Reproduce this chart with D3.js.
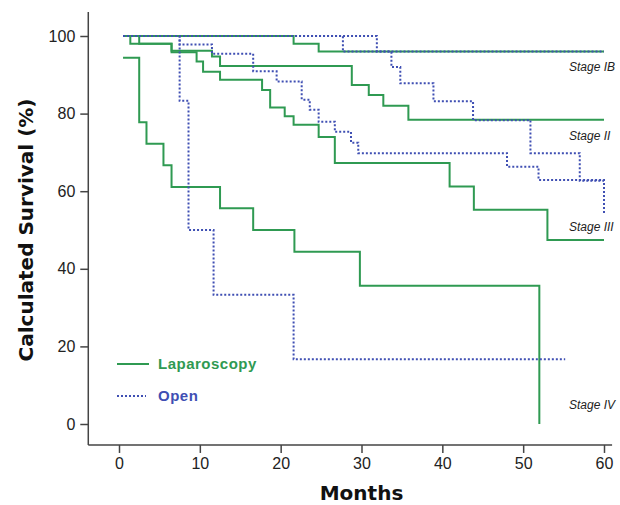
<!DOCTYPE html>
<html>
<head>
<meta charset="utf-8">
<script src="https://cdn.jsdelivr.net/npm/d3@7"></script>
<style>
  body { margin: 0; background: #fff; }
  text { font-family: "Liberation Sans", Arial, sans-serif; }
</style>
</head>
<body>
<div id="km"></div>
<script>
// survival steps: [month, % surviving]
const lapIB = [[0.5,100],[21.6,98],[24.7,96],[60,96]];
const lapII = [[0.5,100],[1.4,98],[6.5,96.2],[11.5,94.7],[12.5,92.3],[28.8,87.4],[30.9,84.8],[32.7,82],[35.8,78.4],[60,78.4]];
const lapIII = [[0.5,100],[2.5,98],[6.5,95.8],[9.6,93.4],[10.4,90.8],[12.5,88.7],[17.7,86.1],[18.7,81.6],[20.5,79.3],[21.6,77.1],[24.7,74],[26.7,67.3],[40.9,61.2],[43.9,55.2],[53,47.4],[60,47.4]];
const lapIV = [[0.5,94.4],[2.5,77.8],[3.4,72.2],[5.5,66.7],[6.5,61.1],[12.5,55.6],[16.6,50],[21.7,44.4],[29.8,35.6],[52,0]];

const openIB = [[0.5,100],[27.7,96],[60,96]];
const openII = [[0.5,100],[31.9,96],[33.7,92],[34.8,87.8],[38.9,83.2],[43.8,78.3],[50.9,69.8],[57,62.7],[60,62.7]];
const openIII = [[0.5,100],[7.5,97.8],[11.5,95.4],[16.6,90.9],[19.5,88.3],[22.6,83.6],[23.6,81],[24.7,77.9],[26.7,75.3],[28.7,72.5],[29.6,69.8],[48,66.3],[51.9,62.9],[60,54.3]];
const openIV = [[0.5,100],[7.5,83.3],[8.6,50],[11.7,33.3],[21.6,16.7],[55.2,16.7]];

const stageNames = ["Stage IB", "Stage II", "Stage III", "Stage IV"];
const stageLabelPct = [91, 73.2, 49.7, 3.9];
const xTicks = [0, 10, 20, 30, 40, 50, 60];
const yTicks = [0, 20, 40, 60, 80, 100];
const groups = ["Laparoscopy", "Open"];

(function km_chart() {
  const width = 620,
    height = 505;

  const green = "#2f9a52",
    blue = "#3f4fb3";

  const svg = d3.select("#km")
    .append("svg")
    .attr("width", width)
    .attr("height", height);

  let x = d3.scaleLinear([0, 60], [119, 604]);
  let y = d3.scaleLinear([0, 100], [424, 36]);

  // axes
  const yAxis = svg.append("g")
    .attr("transform", `translate(${x(-3.8)},0)`)
    .call(d3.axisLeft(y).tickValues(yTicks).tickSize(8).tickPadding(5));
  yAxis.select(".domain").remove();
  yAxis.append("line")
    .attr("y1", y(106.2)).attr("y2", y(-5.4))
    .attr("stroke", "#444").attr("stroke-width", 1.5);

  const xAxis = svg.append("g")
    .attr("transform", `translate(0,${y(-5.4)})`)
    .call(d3.axisBottom(x).tickValues(xTicks).tickSize(8).tickPadding(5));
  xAxis.select(".domain").remove();
  xAxis.append("line")
    .attr("x1", x(-3.8)).attr("x2", x(61))
    .attr("stroke", "#444").attr("stroke-width", 1.5);

  svg.selectAll(".tick line").attr("stroke", "#444").attr("stroke-width", 1.5);
  svg.selectAll(".tick text")
    .attr("fill", "#222")
    .style("font-size", "16px")
    .style("font-family", "'Liberation Sans', Arial, sans-serif");

  svg.append("text")
    .attr("transform", `translate(33,${(y(0) + y(100)) / 2}) rotate(-90)`)
    .attr("text-anchor", "middle")
    .style("font-family", "'DejaVu Sans', sans-serif")
    .style("font-weight", "bold")
    .style("font-size", "20px")
    .attr("fill", "#111")
    .text("Calculated Survival (%)");

  svg.append("text")
    .attr("x", x(30))
    .attr("y", 500)
    .attr("text-anchor", "middle")
    .style("font-family", "'DejaVu Sans', sans-serif")
    .style("font-weight", "bold")
    .style("font-size", "20px")
    .attr("fill", "#111")
    .text("Months");

  // curves
  const line = d3.line()
    .x(d => x(d[0]))
    .y(d => y(d[1]))
    .curve(d3.curveStepAfter);

  [lapIB, lapII, lapIII, lapIV].forEach(s => {
    svg.append("path")
      .attr("d", line(s))
      .attr("fill", "none")
      .attr("stroke", green)
      .attr("stroke-width", 2);
  });

  [openIB, openII, openIII, openIV].forEach(s => {
    svg.append("path")
      .attr("d", line(s))
      .attr("fill", "none")
      .attr("stroke", blue)
      .attr("stroke-width", 2)
      .attr("stroke-dasharray", "2,2");
  });

  svg.selectAll(".stage-label")
    .data(stageNames)
    .join("text")
    .attr("class", "stage-label")
    .attr("x", 569)
    .attr("y", (d, i) => y(stageLabelPct[i]))
    .style("font-style", "italic")
    .style("font-size", "12px")
    .attr("fill", "#222")
    .text(d => d);

  // legend
  let legendGroup = svg.selectAll(".legend-group")
    .data(groups)
    .join("g")
    .attr("class", "legend-group")
    .attr("transform", (d, i) => `translate(0,${364 + i * 32})`);

  legendGroup.append("line")
    .attr("x1", 117)
    .attr("x2", (d, i) => i ? 146 : 149)
    .attr("stroke", (d, i) => i ? blue : green)
    .attr("stroke-width", 2)
    .attr("stroke-dasharray", (d, i) => i ? "2,2" : null);

  legendGroup.append("text")
    .attr("x", 158)
    .attr("y", 5)
    .style("font-weight", "bold")
    .style("font-size", "15px")
    .style("letter-spacing", "0.5px")
    .attr("fill", (d, i) => i ? blue : green)
    .text(d => d);
})();
</script>
</body>
</html>
